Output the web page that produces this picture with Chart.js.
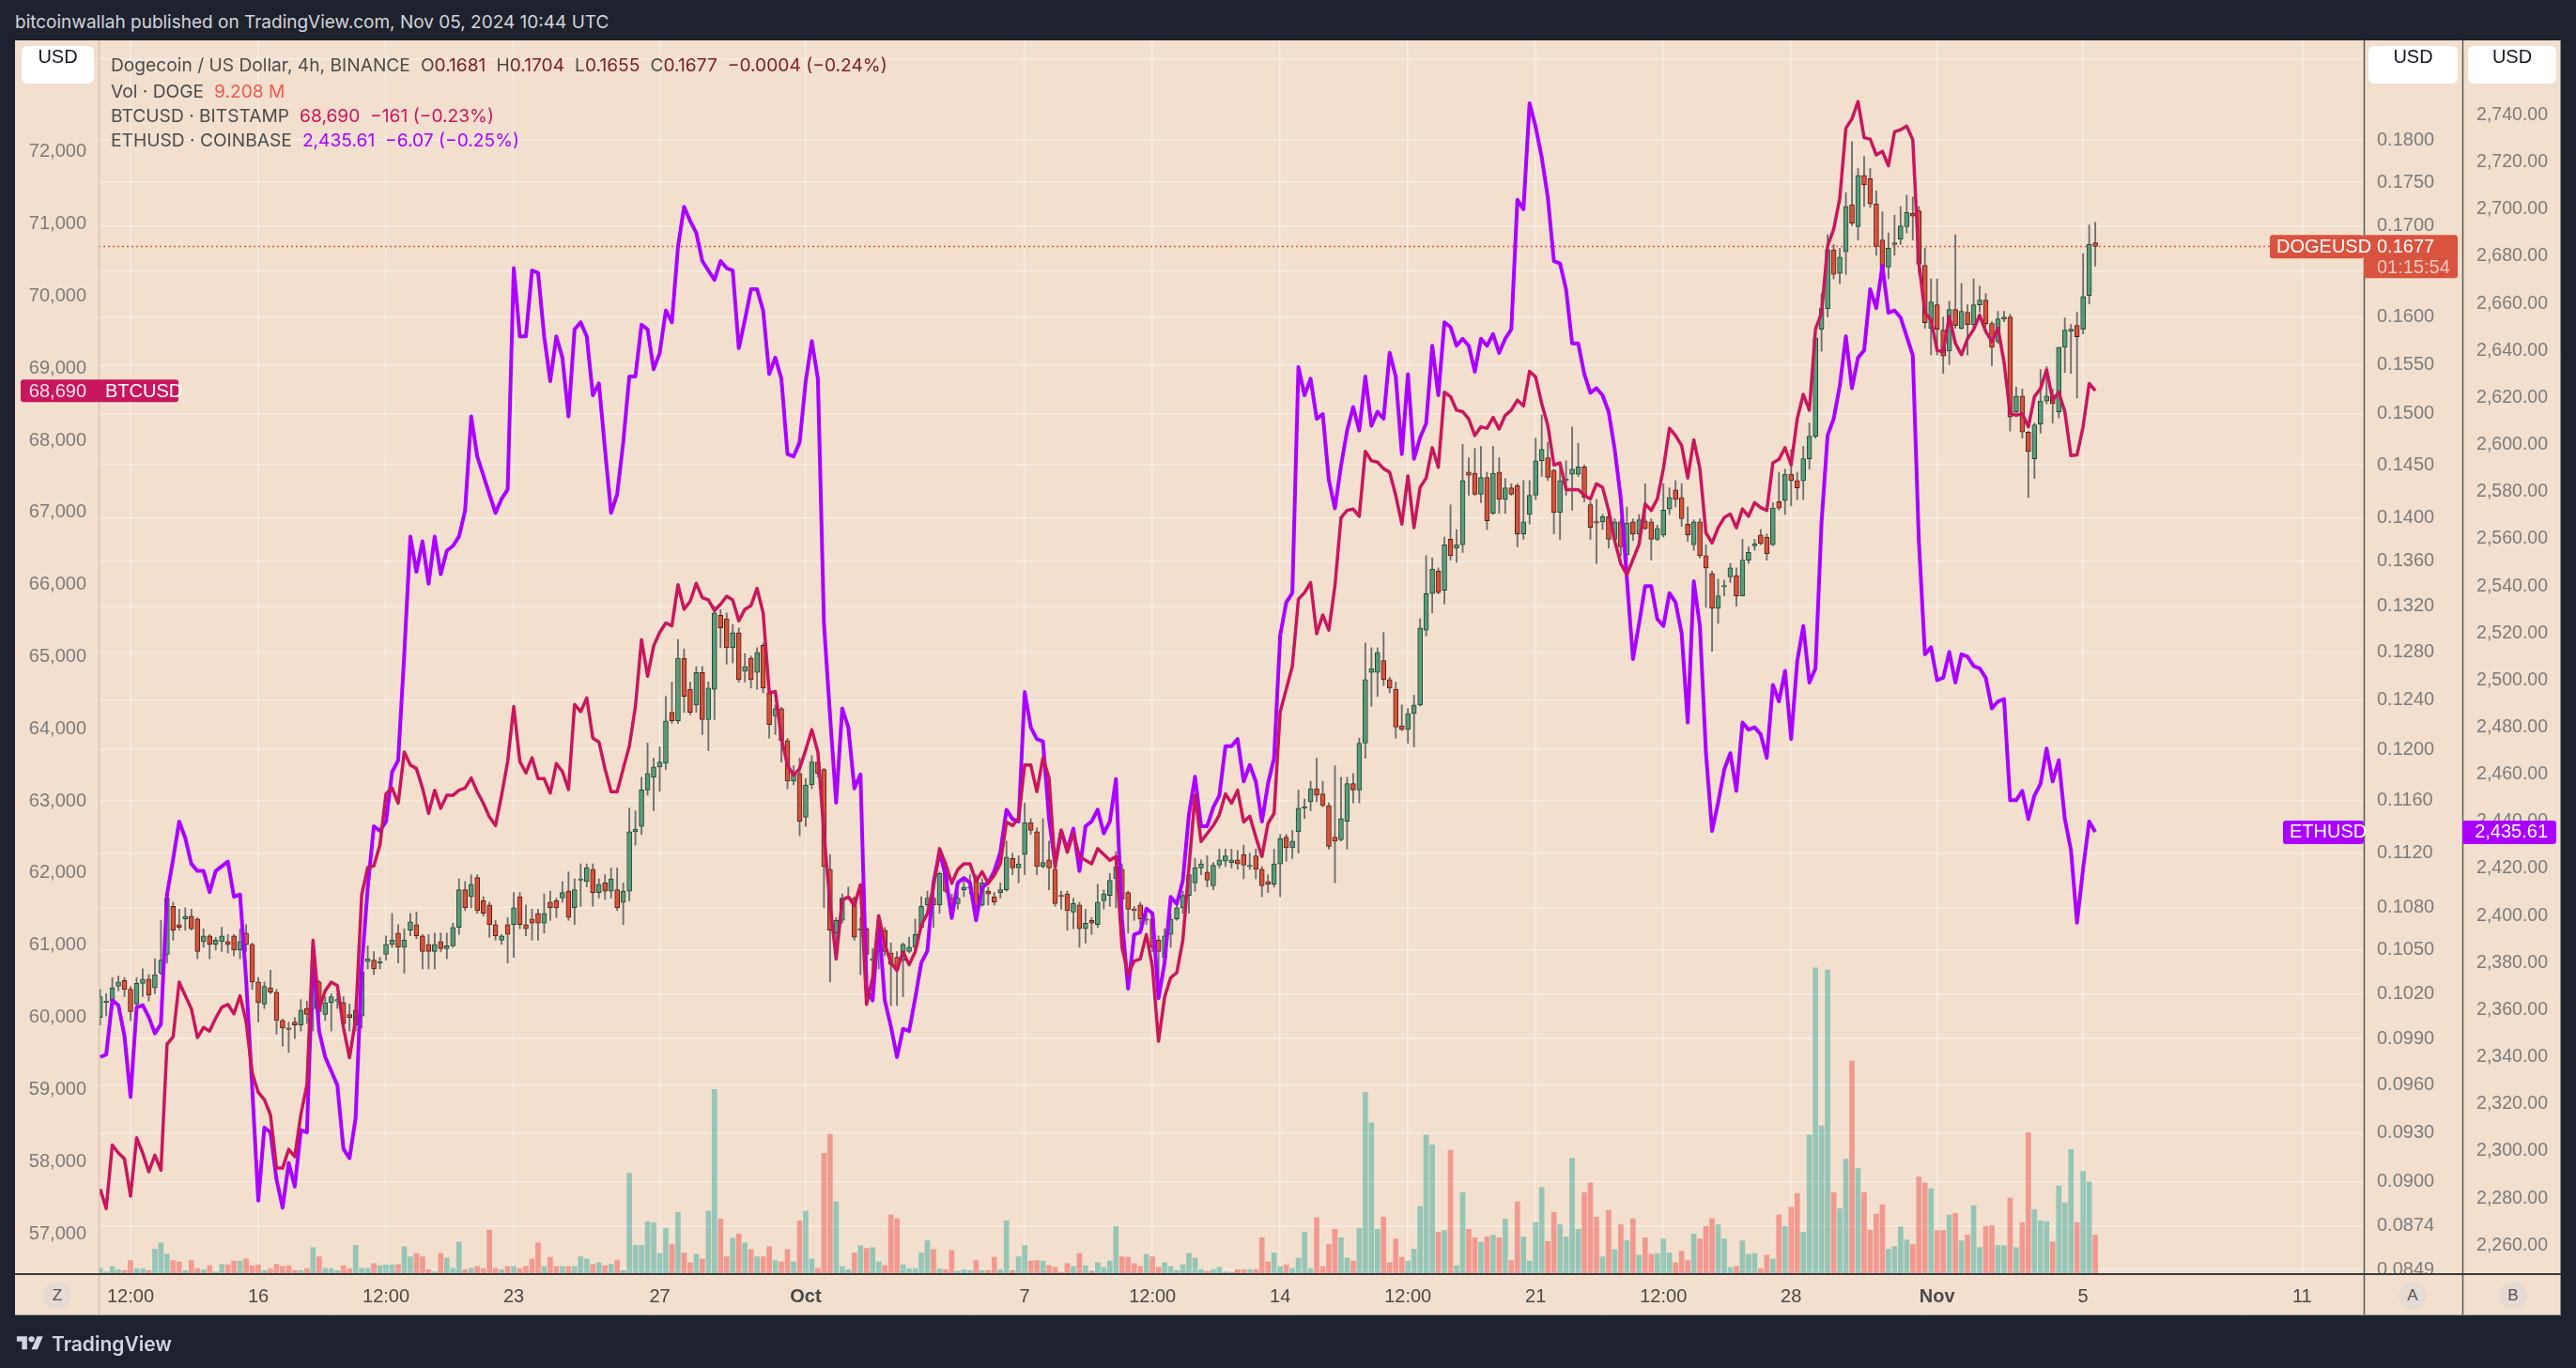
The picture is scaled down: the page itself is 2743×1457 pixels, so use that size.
<!DOCTYPE html>
<html>
<head>
<meta charset="utf-8">
<title>DOGEUSD with BTCUSD and ETHUSD, 4h</title>
<script src="https://cdn.jsdelivr.net/npm/chart.js@4.4.1/dist/chart.umd.min.js"></script>
<style>
    html, body { margin: 0; padding: 0; width: 2743px; height: 1457px; overflow: hidden; background: #1e222d; font-family: Inter, "Noto Sans", sans-serif; }
    #title { position: absolute; left: 16px; top: 12px; font-size: 19px; color: #d1d4dc; white-space: nowrap; }
    #panel { position: absolute; left: 16px; top: 43px; width: 2711px; height: 1358px; background: #f2dfce; }
    #chartBox { position: absolute; left: 0; top: 0; width: 2711px; height: 1358px; }
    .usd { position: absolute; top: 6px; height: 40px; line-height: 40px; background: #fff; border-radius: 6px; font: 20px "Liberation Sans", Arial, sans-serif; color: #131722; text-align: center; }
    .lg { position: absolute; left: 102px; font-size: 19.2px; line-height: 26px; color: #4c4c4c; white-space: nowrap; }
    .lg .s { margin-left: 11px; }
    .dv { color: #7a1f1f; }
    .circ { position: absolute; width: 30px; height: 30px; border-radius: 15px; background: #e6dbd2; color: #555; font: 17px "Liberation Sans", Arial, sans-serif; line-height: 30px; text-align: center; }
    #footer { position: absolute; left: 16px; top: 1418px; height: 26px; display: flex; align-items: center; gap: 7px; color: #d1d4dc; font-size: 21px; font-weight: 600; }
</style>
</head>
<body>
<div id="title">bitcoinwallah published on TradingView.com, Nov 05, 2024 10:44 UTC</div>
<div id="panel">
    <div id="chartBox"><canvas id="chart"></canvas></div>
    <div class="usd" style="left:7px; width:77px;">USD</div>
    <div class="usd" style="left:2506px; width:95px;">USD</div>
    <div class="usd" style="left:2612px; width:94px;">USD</div>
    <div class="lg" style="top:13px;"><span>Dogecoin / US Dollar, 4h, BINANCE</span><span class="s">O</span><span class="dv" id="lgO"></span><span class="s">H</span><span class="dv" id="lgH"></span><span class="s">L</span><span class="dv" id="lgL"></span><span class="s">C</span><span class="dv" id="lgC"></span><span class="dv s">−0.0004 (−0.24%)</span></div>
    <div class="lg" style="top:41px;"><span>Vol · DOGE</span><span class="s" style="color:#ef5a4f;" id="lgV"></span></div>
    <div class="lg" style="top:67px;"><span>BTCUSD · BITSTAMP</span><span class="s" style="color:#c8175d;"><span id="lgB"></span>&nbsp;&nbsp;−161 (−0.23%)</span></div>
    <div class="lg" style="top:93px;"><span>ETHUSD · COINBASE</span><span class="s" style="color:#a800ff;"><span id="lgE"></span>&nbsp;&nbsp;−6.07 (−0.25%)</span></div>
    <div class="circ" style="left:30px; top:1322px;">Z</div>
    <div class="circ" style="left:2538px; top:1322px;">A</div>
    <div class="circ" style="left:2645px; top:1322px;">B</div>
</div>
<div id="footer">
    <svg width="32" height="22" viewBox="0 0 36 28"><path d="M14 22H7V11H0V4h14v18z" fill="#d1d4dc"/><circle cx="20" cy="8" r="4" fill="#d1d4dc"/><path d="M28 22h-8l7.5-18h8L28 22z" fill="#d1d4dc"/></svg>
    <span>TradingView</span>
</div>
<script>
// DOGEUSD 4h candles, Binance, from Sep 11 16:00 UTC to Nov 5 08:00 UTC
const dogeOpen = [
    .1004,.1014,.1015,.1025,.1029,.1023,.1013,.1027,.1030,.1024,
    .1034,.1047,.1081,.1068,.1072,.1074,.1072,.1056,.1060,.1054,
    .1056,.1056,.1060,.1050,.1062,.1054,.1028,.1013,.1024,.1021,
    .1002,.0997,.1001,.0999,.1010,.1010,.1028,.1006,.1014,.1015,
    .1014,.1006,.0999,.1005,.1042,.1043,.1041,.1047,.1054,.1062,
    .1052,.1064,.1068,.1060,.1054,.1049,.1056,.1051,.1053,.1066,
    .1093,.1088,.1102,.1085,.1082,.1068,.1057,.1068,.1068,.1088,
    .1068,.1072,.1076,.1069,.1084,.1085,.1087,.1092,.1080,.1100,
    .1099,.1108,.1091,.1098,.1092,.1093,.1084,.1092,.1136,.1140,
    .1168,.1178,.1186,.1189,.1230,.1223,.1275,.1249,.1236,.1263,
    .1224,.1249,.1312,.1309,.1284,.1297,.1264,.1275,.1263,.1286,
    .1246,.1227,.1233,.1207,.1175,.1181,.1147,.1172,.1190,.1184,
    .1108,.1062,.1071,.1087,.1087,.1064,.1065,.1043,.1049,.1064,
    .1048,.1045,.1043,.1049,.1052,.1066,.1082,.1087,.1082,.1110,
    .1087,.1083,.1093,.1094,.1101,.1082,.1092,.1088,.1091,.1093,
    .1116,.1109,.1119,.1143,.1136,.1110,.1115,.1108,.1089,.1090,
    .1077,.1082,.1065,.1071,.1068,.1085,.1089,.1101,.1108,.1091,
    .1079,.1082,.1071,.1072,.1057,.1045,.1061,.1072,.1080,.1089,
    .1098,.1109,.1106,.1096,.1111,.1114,.1113,.1115,.1119,.1110,
    .1118,.1108,.1099,.1097,.1112,.1132,.1124,.1136,.1154,.1159,
    .1169,.1165,.1156,.1132,.1130,.1144,.1173,.1168,.1205,.1263,
    .1263,.1273,.1257,.1249,.1219,.1216,.1229,.1236,.1299,.1331,
    .1351,.1334,.1380,.1372,.1375,.1443,.1442,.1422,.1438,.1404,
    .1443,.1417,.1428,.1430,.1385,.1403,.1421,.1454,.1457,.1445,
    .1405,.1435,.1441,.1441,.1448,.1412,.1396,.1396,.1401,.1380,
    .1396,.1366,.1396,.1385,.1397,.1396,.1380,.1384,.1408,.1426,
    .1419,.1394,.1375,.1396,.1365,.1349,.1318,.1337,.1346,.1347,
    .1329,.1361,.1374,.1384,.1382,.1375,.1415,.1416,.1441,.1435,
    .1435,.1456,.1478,.1587,.1609,.1673,.1647,.1671,.1724,.1699,
    .1758,.1754,.1725,.1684,.1654,.1679,.1685,.1699,.1714,.1717,
    .1656,.1588,.1613,.1586,.1564,.1608,.1588,.1605,.1592,.1613,
    .1618,.1593,.1574,.1598,.1600,.1502,.1518,.1482,.1456,.1490,
    .1513,.1519,.1502,.1568,.1585,.1591,.1587,.1623,.1681
];
const dogeHigh = [
    .1023,.1020,.1031,.1032,.1031,.1025,.1031,.1037,.1033,.1044,
    .1071,.1090,.1084,.1079,.1080,.1079,.1073,.1065,.1061,.1059,
    .1066,.1061,.1061,.1065,.1068,.1055,.1031,.1028,.1036,.1023,
    .1003,.1001,.1004,.1016,.1015,.1036,.1029,.1018,.1020,.1020,
    .1018,.1013,.1015,.1038,.1053,.1049,.1045,.1060,.1076,.1068,
    .1065,.1076,.1077,.1061,.1061,.1062,.1062,.1062,.1069,.1101,
    .1099,.1104,.1104,.1088,.1084,.1071,.1061,.1073,.1091,.1091,
    .1082,.1079,.1079,.1090,.1092,.1087,.1099,.1106,.1101,.1112,
    .1112,.1112,.1101,.1104,.1109,.1109,.1098,.1154,.1152,.1178,
    .1205,.1193,.1202,.1243,.1255,.1291,.1283,.1255,.1268,.1268,
    .1255,.1320,.1317,.1314,.1304,.1301,.1279,.1277,.1284,.1288,
    .1248,.1236,.1234,.1209,.1187,.1193,.1177,.1195,.1198,.1185,
    .1119,.1073,.1090,.1095,.1088,.1073,.1066,.1051,.1060,.1066,
    .1055,.1049,.1055,.1059,.1072,.1088,.1092,.1091,.1106,.1112,
    .1090,.1092,.1101,.1104,.1104,.1101,.1095,.1091,.1098,.1129,
    .1120,.1118,.1158,.1146,.1139,.1146,.1129,.1109,.1092,.1092,
    .1087,.1084,.1079,.1073,.1097,.1093,.1105,.1121,.1112,.1092,
    .1081,.1084,.1076,.1073,.1060,.1065,.1076,.1084,.1092,.1109,
    .1116,.1115,.1118,.1113,.1123,.1123,.1123,.1122,.1126,.1120,
    .1123,.1110,.1104,.1123,.1134,.1134,.1137,.1168,.1161,.1175,
    .1193,.1175,.1158,.1187,.1178,.1178,.1181,.1209,.1288,.1284,
    .1284,.1297,.1259,.1255,.1236,.1233,.1244,.1309,.1365,.1363,
    .1354,.1382,.1412,.1389,.1470,.1457,.1466,.1468,.1443,.1468,
    .1457,.1437,.1432,.1432,.1435,.1435,.1476,.1499,.1472,.1446,
    .1450,.1454,.1487,.1471,.1450,.1415,.1417,.1403,.1407,.1399,
    .1399,.1410,.1399,.1403,.1432,.1399,.1393,.1432,.1428,.1435,
    .1432,.1410,.1398,.1399,.1375,.1351,.1344,.1343,.1358,.1354,
    .1380,.1373,.1380,.1389,.1385,.1414,.1443,.1446,.1465,.1443,
    .1468,.1491,.1590,.1625,.1690,.1679,.1675,.1738,.1798,.1766,
    .1780,.1766,.1740,.1716,.1692,.1712,.1722,.1735,.1733,.1722,
    .1675,.1641,.1641,.1600,.1617,.1690,.1636,.1613,.1641,.1633,
    .1625,.1595,.1606,.1606,.1603,.1527,.1525,.1483,.1491,.1545,
    .1548,.1525,.1568,.1599,.1592,.1605,.1669,.1701,.1704
];
const dogeLow = [
    .0999,.1005,.1010,.1022,.1018,.1002,.1007,.1018,.1015,.1020,
    .1033,.1041,.1057,.1064,.1064,.1064,.1044,.1052,.1044,.1050,
    .1049,.1048,.1046,.1044,.1049,.1023,.1001,.1010,.1020,.0993,
    .0985,.0981,.0990,.0995,.1000,.0995,.1002,.1002,.0995,.1010,
    .0995,.0995,.0995,.0997,.1037,.1033,.1037,.1043,.1052,.1041,
    .1034,.1060,.1058,.1037,.1037,.1037,.1049,.1044,.1052,.1061,
    .1078,.1080,.1076,.1074,.1059,.1057,.1054,.1041,.1045,.1065,
    .1060,.1057,.1057,.1062,.1071,.1073,.1084,.1071,.1068,.1081,
    .1095,.1081,.1087,.1086,.1087,.1078,.1068,.1085,.1126,.1134,
    .1164,.1152,.1167,.1184,.1221,.1221,.1230,.1228,.1230,.1212,
    .1199,.1224,.1284,.1270,.1271,.1255,.1255,.1250,.1249,.1246,
    .1209,.1212,.1190,.1169,.1172,.1133,.1140,.1169,.1178,.1080,
    .1028,.1044,.1069,.1086,.1057,.1033,.1034,.1035,.1037,.1046,
    .1012,.1012,.1018,.1048,.1049,.1065,.1081,.1066,.1076,.1091,
    .1076,.1079,.1088,.1090,.1080,.1081,.1082,.1082,.1087,.1092,
    .1104,.1098,.1104,.1134,.1104,.1109,.1093,.1081,.1079,.1064,
    .1065,.1052,.1055,.1061,.1066,.1079,.1081,.1080,.1081,.1062,
    .1071,.1068,.1068,.1049,.1023,.1044,.1052,.1071,.1076,.1076,
    .1092,.1104,.1095,.1093,.1109,.1110,.1109,.1108,.1101,.1108,
    .1101,.1088,.1091,.1095,.1088,.1114,.1116,.1120,.1146,.1152,
    .1159,.1155,.1123,.1098,.1129,.1123,.1158,.1158,.1193,.1235,
    .1243,.1252,.1246,.1209,.1215,.1205,.1202,.1235,.1294,.1314,
    .1331,.1322,.1361,.1359,.1368,.1421,.1421,.1414,.1389,.1403,
    .1404,.1404,.1421,.1373,.1380,.1394,.1417,.1439,.1435,.1385,
    .1380,.1421,.1407,.1439,.1415,.1380,.1358,.1389,.1372,.1379,
    .1365,.1348,.1379,.1382,.1389,.1361,.1379,.1382,.1403,.1410,
    .1392,.1378,.1370,.1363,.1319,.1281,.1305,.1329,.1341,.1320,
    .1329,.1358,.1370,.1375,.1361,.1374,.1407,.1403,.1411,.1417,
    .1417,.1446,.1476,.1564,.1600,.1641,.1636,.1646,.1700,.1684,
    .1722,.1721,.1667,.1641,.1641,.1667,.1679,.1692,.1684,.1646,
    .1588,.1560,.1560,.1541,.1550,.1588,.1587,.1560,.1588,.1605,
    .1590,.1549,.1572,.1595,.1483,.1501,.1476,.1419,.1437,.1481,
    .1510,.1491,.1496,.1542,.1541,.1516,.1582,.1614,.1655
];
const dogeClose = [
    .1018,.1015,.1024,.1028,.1023,.1008,.1027,.1030,.1019,.1033,
    .1043,.1087,.1064,.1066,.1074,.1065,.1049,.1060,.1054,.1057,
    .1060,.1054,.1050,.1056,.1054,.1028,.1014,.1025,.1021,.1002,
    .0997,.0996,.0999,.1009,.1006,.1027,.1008,.1014,.1018,.1016,
    .1000,.1004,.1009,.1035,.1044,.1037,.1042,.1054,.1057,.1052,
    .1057,.1070,.1060,.1049,.1049,.1054,.1051,.1053,.1066,.1093,
    .1080,.1097,.1078,.1076,.1068,.1060,.1060,.1061,.1080,.1068,
    .1065,.1069,.1069,.1076,.1080,.1080,.1091,.1073,.1093,.1101,
    .1109,.1091,.1097,.1092,.1101,.1080,.1092,.1136,.1138,.1168,
    .1181,.1186,.1190,.1223,.1223,.1275,.1243,.1230,.1263,.1224,
    .1250,.1314,.1301,.1284,.1297,.1257,.1268,.1257,.1280,.1250,
    .1220,.1233,.1207,.1175,.1181,.1144,.1172,.1190,.1181,.1110,
    .1064,.1071,.1087,.1088,.1059,.1065,.1047,.1044,.1057,.1049,
    .1040,.1037,.1054,.1052,.1061,.1081,.1087,.1082,.1105,.1092,
    .1077,.1087,.1095,.1095,.1081,.1098,.1090,.1084,.1093,.1117,
    .1109,.1112,.1143,.1137,.1110,.1113,.1109,.1083,.1088,.1078,
    .1083,.1065,.1069,.1069,.1084,.1090,.1100,.1110,.1086,.1079,
    .1078,.1072,.1072,.1052,.1049,.1060,.1072,.1080,.1089,.1104,
    .1109,.1112,.1100,.1111,.1115,.1118,.1115,.1112,.1111,.1111,
    .1108,.1096,.1097,.1112,.1131,.1124,.1129,.1154,.1155,.1169,
    .1164,.1156,.1125,.1129,.1146,.1173,.1168,.1205,.1257,.1266,
    .1280,.1257,.1250,.1218,.1216,.1229,.1236,.1301,.1331,.1353,
    .1332,.1375,.1365,.1375,.1435,.1440,.1422,.1438,.1397,.1442,
    .1417,.1428,.1422,.1385,.1396,.1421,.1454,.1465,.1438,.1405,
    .1435,.1435,.1446,.1448,.1419,.1391,.1395,.1401,.1380,.1396,
    .1373,.1395,.1385,.1398,.1390,.1380,.1390,.1407,.1419,.1417,
    .1399,.1384,.1396,.1365,.1354,.1318,.1329,.1338,.1354,.1329,
    .1361,.1368,.1376,.1376,.1367,.1409,.1409,.1441,.1435,.1428,
    .1456,.1478,.1578,.1609,.1673,.1646,.1665,.1722,.1703,.1758,
    .1747,.1725,.1677,.1650,.1675,.1681,.1700,.1715,.1711,.1657,
    .1594,.1616,.1587,.1559,.1608,.1591,.1606,.1592,.1613,.1618,
    .1593,.1568,.1598,.1600,.1497,.1518,.1482,.1463,.1489,.1513,
    .1518,.1510,.1568,.1586,.1587,.1579,.1622,.1679,.1677
];
// volume in millions of DOGE
const dogeVolume = [
    1.4,0.5,1.8,1.1,0.9,3.2,1.3,1.3,0.9,5.9,
    7.4,4.7,3.2,2.9,0.9,3.2,1.3,1.1,2.0,0.5,
    2.3,2.2,3.1,3.1,3.6,2.0,2.2,0.9,1.3,2.3,
    1.8,2.0,0.9,0.9,1.3,6.3,4.1,1.4,1.3,0.9,
    2.0,1.3,6.8,1.4,1.4,2.5,2.0,2.2,2.2,2.3,
    6.5,4.1,4.9,4.1,1.1,0.5,4.9,3.8,1.4,7.6,
    1.1,1.4,1.8,1.3,10.4,1.4,1.1,1.8,1.8,1.3,
    1.8,3.6,7.4,1.8,4.0,1.8,1.8,1.8,1.8,4.1,
    3.6,2.3,2.7,2.0,2.3,3.2,0.9,23.9,6.8,6.8,
    12.4,12.2,4.9,10.8,7.0,14.6,5.0,2.7,4.7,3.6,
    14.9,43.7,13.0,4.1,8.5,9.5,7.4,5.8,4.1,4.1,
    6.5,3.2,2.9,5.8,2.9,12.6,14.9,3.6,1.4,28.6,
    33.1,17.1,1.8,1.1,5.0,6.7,6.1,6.3,2.9,2.0,
    14.0,13.1,2.2,1.3,1.3,5.0,7.9,5.8,1.3,1.1,
    5.6,0.7,1.1,0.9,3.2,0.9,0.9,4.0,1.1,12.6,
    0.9,4.1,6.8,3.1,3.2,3.1,2.0,1.6,0.4,2.5,
    1.8,4.9,2.0,0.7,2.7,1.6,3.1,11.3,4.1,4.0,
    2.5,1.8,4.7,4.1,1.6,2.7,1.8,0.9,2.2,4.9,
    3.8,1.1,0.7,1.1,1.6,0.5,0.4,1.1,1.1,1.1,
    1.1,8.6,2.9,5.0,1.8,2.2,1.4,3.8,9.9,1.3,
    13.3,1.8,7.0,10.6,8.6,3.8,3.1,10.8,43.0,35.8,
    10.6,13.5,2.7,8.3,4.0,3.1,5.9,16.0,32.9,30.6,
    9.9,10.3,29.3,2.0,19.3,10.6,8.6,7.6,8.8,9.2,
    8.6,13.0,3.2,17.1,8.8,3.1,12.2,20.5,7.7,14.6,
    11.7,8.8,27.4,10.6,19.3,21.6,13.5,4.1,15.1,5.8,
    11.7,7.9,13.1,4.5,8.6,4.7,4.9,8.3,5.0,2.7,
    5.4,3.2,9.5,8.3,11.3,13.1,11.7,8.3,1.6,1.8,
    7.9,4.7,4.9,1.3,4.5,3.6,14.0,11.3,15.8,19.1,
    9.9,32.9,72.5,35.1,72.0,19.3,15.5,27.2,50.4,25.0,
    19.3,10.4,14.2,16.4,5.9,6.5,11.2,8.1,7.0,23.0,
    21.6,20.2,10.3,10.3,14.0,14.4,7.9,9.2,16.2,6.3,
    11.3,11.5,6.8,6.7,18.0,6.3,12.2,33.5,15.3,12.6,
    12.4,7.6,20.9,16.9,29.5,12.2,24.3,21.8,9.208
];
// BTCUSD (Bitstamp) and ETHUSD (Coinbase) closes on the same 4h bars
const btcClose = [
    57620,57350,58230,58120,58040,57520,58330,58120,57860,58090,
    57880,59630,59730,60490,60300,60120,59720,59860,59810,59990,
    60140,60180,60050,60300,59940,59230,58960,58860,58650,57910,
    57910,58170,58070,58650,59070,61070,60120,60370,60490,60440,
    59860,59440,59970,61700,62080,62100,62390,63100,63180,62970,
    63680,63500,63450,63180,62830,63150,62900,63080,63080,63150,
    63180,63320,63130,62970,62780,62660,63080,63550,64310,63550,
    63390,63600,63310,63310,63110,63520,63410,63160,64340,64240,
    64430,63870,63820,63450,63130,63130,63450,63760,64310,65240,
    64730,65150,65340,65470,65430,66000,65660,65770,66020,65820,
    65790,65640,65730,65840,65790,65500,65660,65710,65950,65610,
    64500,64520,63870,63500,63360,63450,63710,63990,63680,62550,
    61570,60810,61630,61670,61550,61840,60180,60550,61410,61020,
    60760,60650,60910,60730,60910,61280,61440,61810,62340,62130,
    61860,62050,62130,62130,61890,62020,61860,61970,62130,62710,
    62660,62760,63500,63500,63130,63600,63320,62080,62600,62290,
    62550,62230,62180,62130,62340,62260,62180,62230,60970,60600,
    60780,60810,61150,60700,59670,60280,60550,60620,61070,62080,
    63080,62440,62550,62660,62810,63100,62970,63150,62710,62790,
    62500,62230,62690,62830,64240,64550,64870,65800,65890,66030,
    65320,65580,65370,65980,66930,67030,67050,66950,67850,67720,
    67700,67610,67560,67240,66840,67510,66790,67350,67480,67900,
    67630,68670,68610,68420,68400,68300,68070,68190,68170,68320,
    68160,68350,68420,68560,68480,68960,68880,68510,68210,67660,
    67690,67320,67320,67320,67240,67190,67400,67350,67030,66610,
    66290,66140,66350,66560,67120,67030,67190,67610,68170,68070,
    67930,67480,68010,67610,66720,66580,66790,66930,66980,66790,
    67050,66950,67140,67070,67030,67690,67740,67900,67660,68300,
    68640,68420,69540,69770,70700,70930,71360,72330,72460,72700,
    72200,72180,71960,72010,71810,72280,72310,72360,72170,70460,
    69770,69670,69250,69230,69720,69350,69190,69410,69540,69740,
    69510,69370,69560,69090,68380,68350,68370,68190,68610,68720,
    68980,68560,68670,68400,67790,67800,68190,68790,68690
];
const ethClose = [
    2340,2341,2364,2362,2349,2323,2361,2362,2357,2350,
    2354,2409,2424,2440,2433,2422,2419,2419,2410,2419,
    2421,2423,2408,2409,2373,2327,2279,2310,2308,2288,
    2276,2295,2285,2309,2308,2385,2351,2340,2334,2328,
    2301,2297,2314,2378,2412,2438,2436,2440,2461,2466,
    2511,2561,2546,2559,2541,2561,2545,2555,2557,2561,
    2572,2612,2595,2587,2579,2571,2577,2581,2675,2646,
    2646,2674,2673,2646,2627,2646,2637,2612,2649,2652,
    2646,2621,2626,2598,2571,2579,2601,2629,2629,2651,
    2649,2632,2639,2657,2652,2684,2701,2695,2690,2678,
    2674,2670,2678,2675,2674,2641,2653,2666,2666,2657,
    2630,2637,2628,2596,2595,2601,2627,2644,2628,2524,
    2485,2448,2488,2480,2454,2460,2369,2364,2398,2364,
    2353,2340,2352,2351,2365,2380,2385,2414,2427,2417,
    2399,2414,2416,2414,2398,2412,2414,2419,2427,2445,
    2441,2440,2495,2480,2475,2474,2441,2422,2436,2428,
    2437,2419,2438,2440,2445,2435,2440,2458,2398,2369,
    2392,2393,2403,2401,2365,2380,2408,2405,2415,2443,
    2459,2438,2438,2446,2451,2472,2472,2475,2457,2464,
    2457,2440,2456,2467,2519,2533,2537,2633,2621,2628,
    2611,2613,2585,2573,2591,2606,2616,2606,2629,2608,
    2614,2611,2639,2629,2596,2630,2594,2603,2609,2642,
    2621,2652,2650,2642,2645,2642,2631,2645,2642,2647,
    2639,2645,2649,2704,2700,2745,2735,2722,2705,2678,
    2677,2666,2643,2643,2630,2622,2624,2621,2614,2598,
    2577,2543,2509,2524,2540,2540,2526,2523,2537,2533,
    2520,2482,2542,2523,2469,2436,2448,2462,2469,2453,
    2482,2479,2480,2477,2467,2498,2491,2504,2475,2508,
    2523,2499,2505,2567,2604,2611,2625,2646,2624,2637,
    2640,2666,2658,2676,2656,2657,2654,2646,2638,2559,
    2511,2514,2500,2501,2512,2499,2511,2510,2506,2505,
    2501,2488,2491,2492,2449,2449,2453,2441,2451,2456,
    2471,2457,2466,2441,2428,2397,2420,2440,2435.61
];

// axis ticks (time ticks are days counted from Sep 1, 2024 00:00 UTC)
const timeTicks = [11.5, 15, 18.5, 22, 26, 30, 36, 39.5, 43, 46.5, 50, 53.5, 57, 61, 65, 71];
const timeTickLabels = ['12:00', '16', '12:00', '23', '27', 'Oct', '7', '12:00', '14', '12:00', '21', '12:00', '28', 'Nov', '5', '11'];
const btcTicks = [57000, 58000, 59000, 60000, 61000, 62000, 63000, 64000, 65000, 66000, 67000, 68000, 69000, 70000, 71000, 72000];
const dogeTicks = [0.19, 0.18, 0.175, 0.17, 0.165, 0.16, 0.155, 0.15, 0.145, 0.14, 0.136, 0.132, 0.128, 0.124, 0.12, 0.116, 0.112, 0.108, 0.105, 0.102, 0.099, 0.096, 0.093, 0.09, 0.0874, 0.0849];
const ethTicks = [2260, 2280, 2300, 2320, 2340, 2360, 2380, 2400, 2420, 2440, 2460, 2480, 2500, 2520, 2540, 2560, 2580, 2600, 2620, 2640, 2660, 2680, 2700, 2720, 2740];

const n = dogeClose.length;
const firstBarDay = (Date.UTC(2024, 8, 11, 16) - Date.UTC(2024, 8, 1)) / 864e5;
const barDays = dogeClose.map((_, i) => firstBarDay + i * 4 / 24);
const isUp = dogeClose.map((c, i) => c >= dogeOpen[i]);
const pts = arr => arr.map((v, i) => ({ x: barDays[i], y: v }));

const axisFont = '"Liberation Sans", Arial, sans-serif';
const gridColor = 'rgba(255,255,255,0.42)';
const btcColor = '#c8175d';
const ethColor = '#aa00ff';
const dogeTagColor = '#d9533f';

document.getElementById('lgO').textContent = dogeOpen[n - 1].toFixed(4);
document.getElementById('lgH').textContent = dogeHigh[n - 1].toFixed(4);
document.getElementById('lgL').textContent = dogeLow[n - 1].toFixed(4);
document.getElementById('lgC').textContent = dogeClose[n - 1].toFixed(4);
document.getElementById('lgV').textContent = dogeVolume[n - 1].toFixed(3) + ' M';
document.getElementById('lgB').textContent = btcClose[n - 1].toLocaleString('en-US');
document.getElementById('lgE').textContent = ethClose[n - 1].toLocaleString('en-US', { minimumFractionDigits: 2 });

function noPad(s) { s.paddingTop = 0; s.paddingBottom = 0; s.paddingLeft = 0; s.paddingRight = 0; }

function vline(ctx, x, y0, y1, color, w) {
    ctx.strokeStyle = color; ctx.lineWidth = w;
    ctx.beginPath(); ctx.moveTo(x, y0); ctx.lineTo(x, y1); ctx.stroke();
}

function box(ctx, x, y, w, h, color) {
    ctx.fillStyle = color;
    ctx.beginPath(); ctx.roundRect(x, y, w, h, 3); ctx.fill();
}

// frame lines, last-price line and price tags
const decor = {
    id: 'decor',
    beforeDatasetsDraw(chart) {
        const { ctx, chartArea: a, scales } = chart;
        const y = Math.round(scales.yA.getPixelForValue(dogeClose[n - 1])) + 0.5;
        ctx.save();
        ctx.strokeStyle = '#e2553f';
        ctx.lineWidth = 1.3;
        ctx.setLineDash([2, 3]);
        ctx.beginPath(); ctx.moveTo(a.left, y); ctx.lineTo(a.right, y); ctx.stroke();
        ctx.restore();
    },
    afterDraw(chart) {
        const { ctx, chartArea: a, scales } = chart;
        const W = chart.width, H = chart.height;
        ctx.save();
        vline(ctx, a.left + 0.5, 0, H, '#d5c4b3', 1.5);
        vline(ctx, a.right + 0.5, 0, H, '#5a5a5a', 1.5);
        vline(ctx, scales.yA.right + 0.5, 0, H, '#5a5a5a', 1.5);
        vline(ctx, W - 0.5, 0, H, '#8c8c8c', 1);
        ctx.strokeStyle = '#3a3a3a'; ctx.lineWidth = 2;
        ctx.beginPath(); ctx.moveTo(0, a.bottom); ctx.lineTo(W, a.bottom); ctx.stroke();
        ctx.strokeStyle = '#9a9a9a'; ctx.lineWidth = 1;
        ctx.beginPath(); ctx.moveTo(0, H - 0.5); ctx.lineTo(W, H - 0.5); ctx.stroke();

        ctx.textBaseline = 'middle';
        ctx.font = '20px ' + axisFont;

        // BTCUSD tag on the left scale
        let y = scales.yL.getPixelForValue(btcClose[n - 1]);
        box(ctx, 6, y - 12, 168, 24, btcColor);
        ctx.fillStyle = '#fbe1ea'; ctx.textAlign = 'right';
        ctx.fillText(btcClose[n - 1].toLocaleString('en-US'), 76, y + 1);
        ctx.fillStyle = '#ffffff'; ctx.textAlign = 'left';
        ctx.fillText('BTCUSD', 96, y + 1);

        // DOGEUSD tag on scale A
        y = scales.yA.getPixelForValue(dogeClose[n - 1]);
        box(ctx, a.right - 100, y - 12, 100, 25, dogeTagColor);
        box(ctx, a.right, y - 12, 100, 46, dogeTagColor);
        ctx.fillStyle = '#ffffff'; ctx.textAlign = 'left';
        ctx.fillText('DOGEUSD', a.right - 93, y + 1);
        ctx.fillText(dogeClose[n - 1].toFixed(4), a.right + 14, y + 1);
        ctx.fillStyle = '#f6c9bf';
        ctx.fillText('01:15:54', a.right + 14, y + 23);

        // ETHUSD tag on scale B
        y = scales.yB.getPixelForValue(ethClose[n - 1]);
        box(ctx, a.right - 86, y - 12, 86, 25, ethColor);
        box(ctx, scales.yB.left, y - 12, 100, 25, ethColor);
        ctx.fillStyle = '#ffffff'; ctx.textAlign = 'left';
        ctx.fillText('ETHUSD', a.right - 79, y + 1);
        ctx.textAlign = 'right';
        ctx.fillText(ethClose[n - 1].toLocaleString('en-US', { minimumFractionDigits: 2 }), scales.yB.right, y + 1);
        ctx.restore();
    }
};

new Chart(document.getElementById('chart'), {
    type: 'bar',
    data: {
        datasets: [
            {
                type: 'line', label: 'BTCUSD', data: pts(btcClose), yAxisID: 'yL',
                borderColor: btcColor, borderWidth: 3.5, pointRadius: 0, tension: 0,
                borderJoinStyle: 'round', fill: false, order: 0
            },
            {
                type: 'line', label: 'ETHUSD', data: pts(ethClose), yAxisID: 'yB',
                borderColor: ethColor, borderWidth: 4, pointRadius: 0, tension: 0,
                borderJoinStyle: 'round', fill: false, order: 1
            },
            {
                label: 'DOGE body',
                data: dogeOpen.map((o, i) => ({ x: barDays[i], y: [o, dogeClose[i]] })),
                yAxisID: 'yA',
                backgroundColor: isUp.map(u => u ? '#5b9a7a' : '#d5533c'),
                borderColor: isUp.map(u => u ? '#1e4b34' : '#5c1e14'),
                borderWidth: 1, borderSkipped: false, barThickness: 5, minBarLength: 1.5,
                grouped: false, order: 2
            },
            {
                label: 'DOGE wick',
                data: dogeLow.map((l, i) => ({ x: barDays[i], y: [l, dogeHigh[i]] })),
                yAxisID: 'yA',
                backgroundColor: '#6e6e6e', barThickness: 1.2, grouped: false, order: 3
            },
            {
                label: 'Vol',
                data: pts(dogeVolume),
                yAxisID: 'yV',
                backgroundColor: isUp.map(u => u ? 'rgba(38,166,154,0.45)' : 'rgba(239,83,80,0.5)'),
                barThickness: 5, grouped: false, order: 4
            }
        ]
    },
    options: {
        responsive: true,
        maintainAspectRatio: false,
        animation: false,
        events: [],
        layout: { padding: { top: 0, left: 0, bottom: 0, right: 14 } },
        plugins: { legend: { display: false }, tooltip: { enabled: false } },
        scales: {
            x: {
                type: 'linear', min: 10.625, max: 72.69, offset: false,
                afterBuildTicks: s => { s.ticks = timeTicks.map(v => ({ value: v })); },
                afterFit: s => { s.height = 44; noPad(s); },
                ticks: {
                    autoSkip: false, maxRotation: 0, padding: 12, color: '#4a4a4a',
                    font: c => ({ family: axisFont, size: 20, weight: (timeTickLabels[c.index] === 'Oct' || timeTickLabels[c.index] === 'Nov') ? 'bold' : 'normal' }),
                    callback: (v, i) => timeTickLabels[i]
                },
                grid: { color: gridColor, lineWidth: 1.5, drawTicks: false, offset: false },
                border: { display: false }
            },
            yL: {
                type: 'linear', position: 'left', min: 56440, max: 73549,
                afterBuildTicks: s => { s.ticks = btcTicks.map(v => ({ value: v })); },
                afterFit: s => { s.width = 89; noPad(s); },
                ticks: { autoSkip: false, padding: 13, color: '#7c7c7c', font: { family: axisFont, size: 20 },
                    callback: v => v.toLocaleString('en-US') },
                grid: { display: false, drawTicks: false },
                border: { display: false }
            },
            yA: {
                type: 'logarithmic', position: 'right', min: 0.084643, max: 0.19232,
                afterBuildTicks: s => { s.ticks = dogeTicks.map(v => ({ value: v })); },
                afterFit: s => { s.width = 105; noPad(s); },
                ticks: { autoSkip: false, padding: 14, color: '#7c7c7c', font: { family: axisFont, size: 20 },
                    callback: v => Number(v).toFixed(4) },
                grid: { color: gridColor, lineWidth: 1.5, drawTicks: false },
                border: { display: false }
            },
            yB: {
                type: 'linear', position: 'right', min: 2247.8, max: 2771.7,
                afterBuildTicks: s => { s.ticks = ethTicks.map(v => ({ value: v })); },
                afterFit: s => { s.width = 91; noPad(s); },
                ticks: { autoSkip: false, padding: 0, crossAlign: 'far', color: '#7c7c7c', font: { family: axisFont, size: 19.5 },
                    callback: v => v.toLocaleString('en-US', { minimumFractionDigits: 2 }) },
                grid: { display: false, drawTicks: false },
                border: { display: false }
            },
            yV: { type: 'linear', display: false, min: 0, max: 292 }
        }
    },
    plugins: [decor]
});
</script>
</body>
</html>
